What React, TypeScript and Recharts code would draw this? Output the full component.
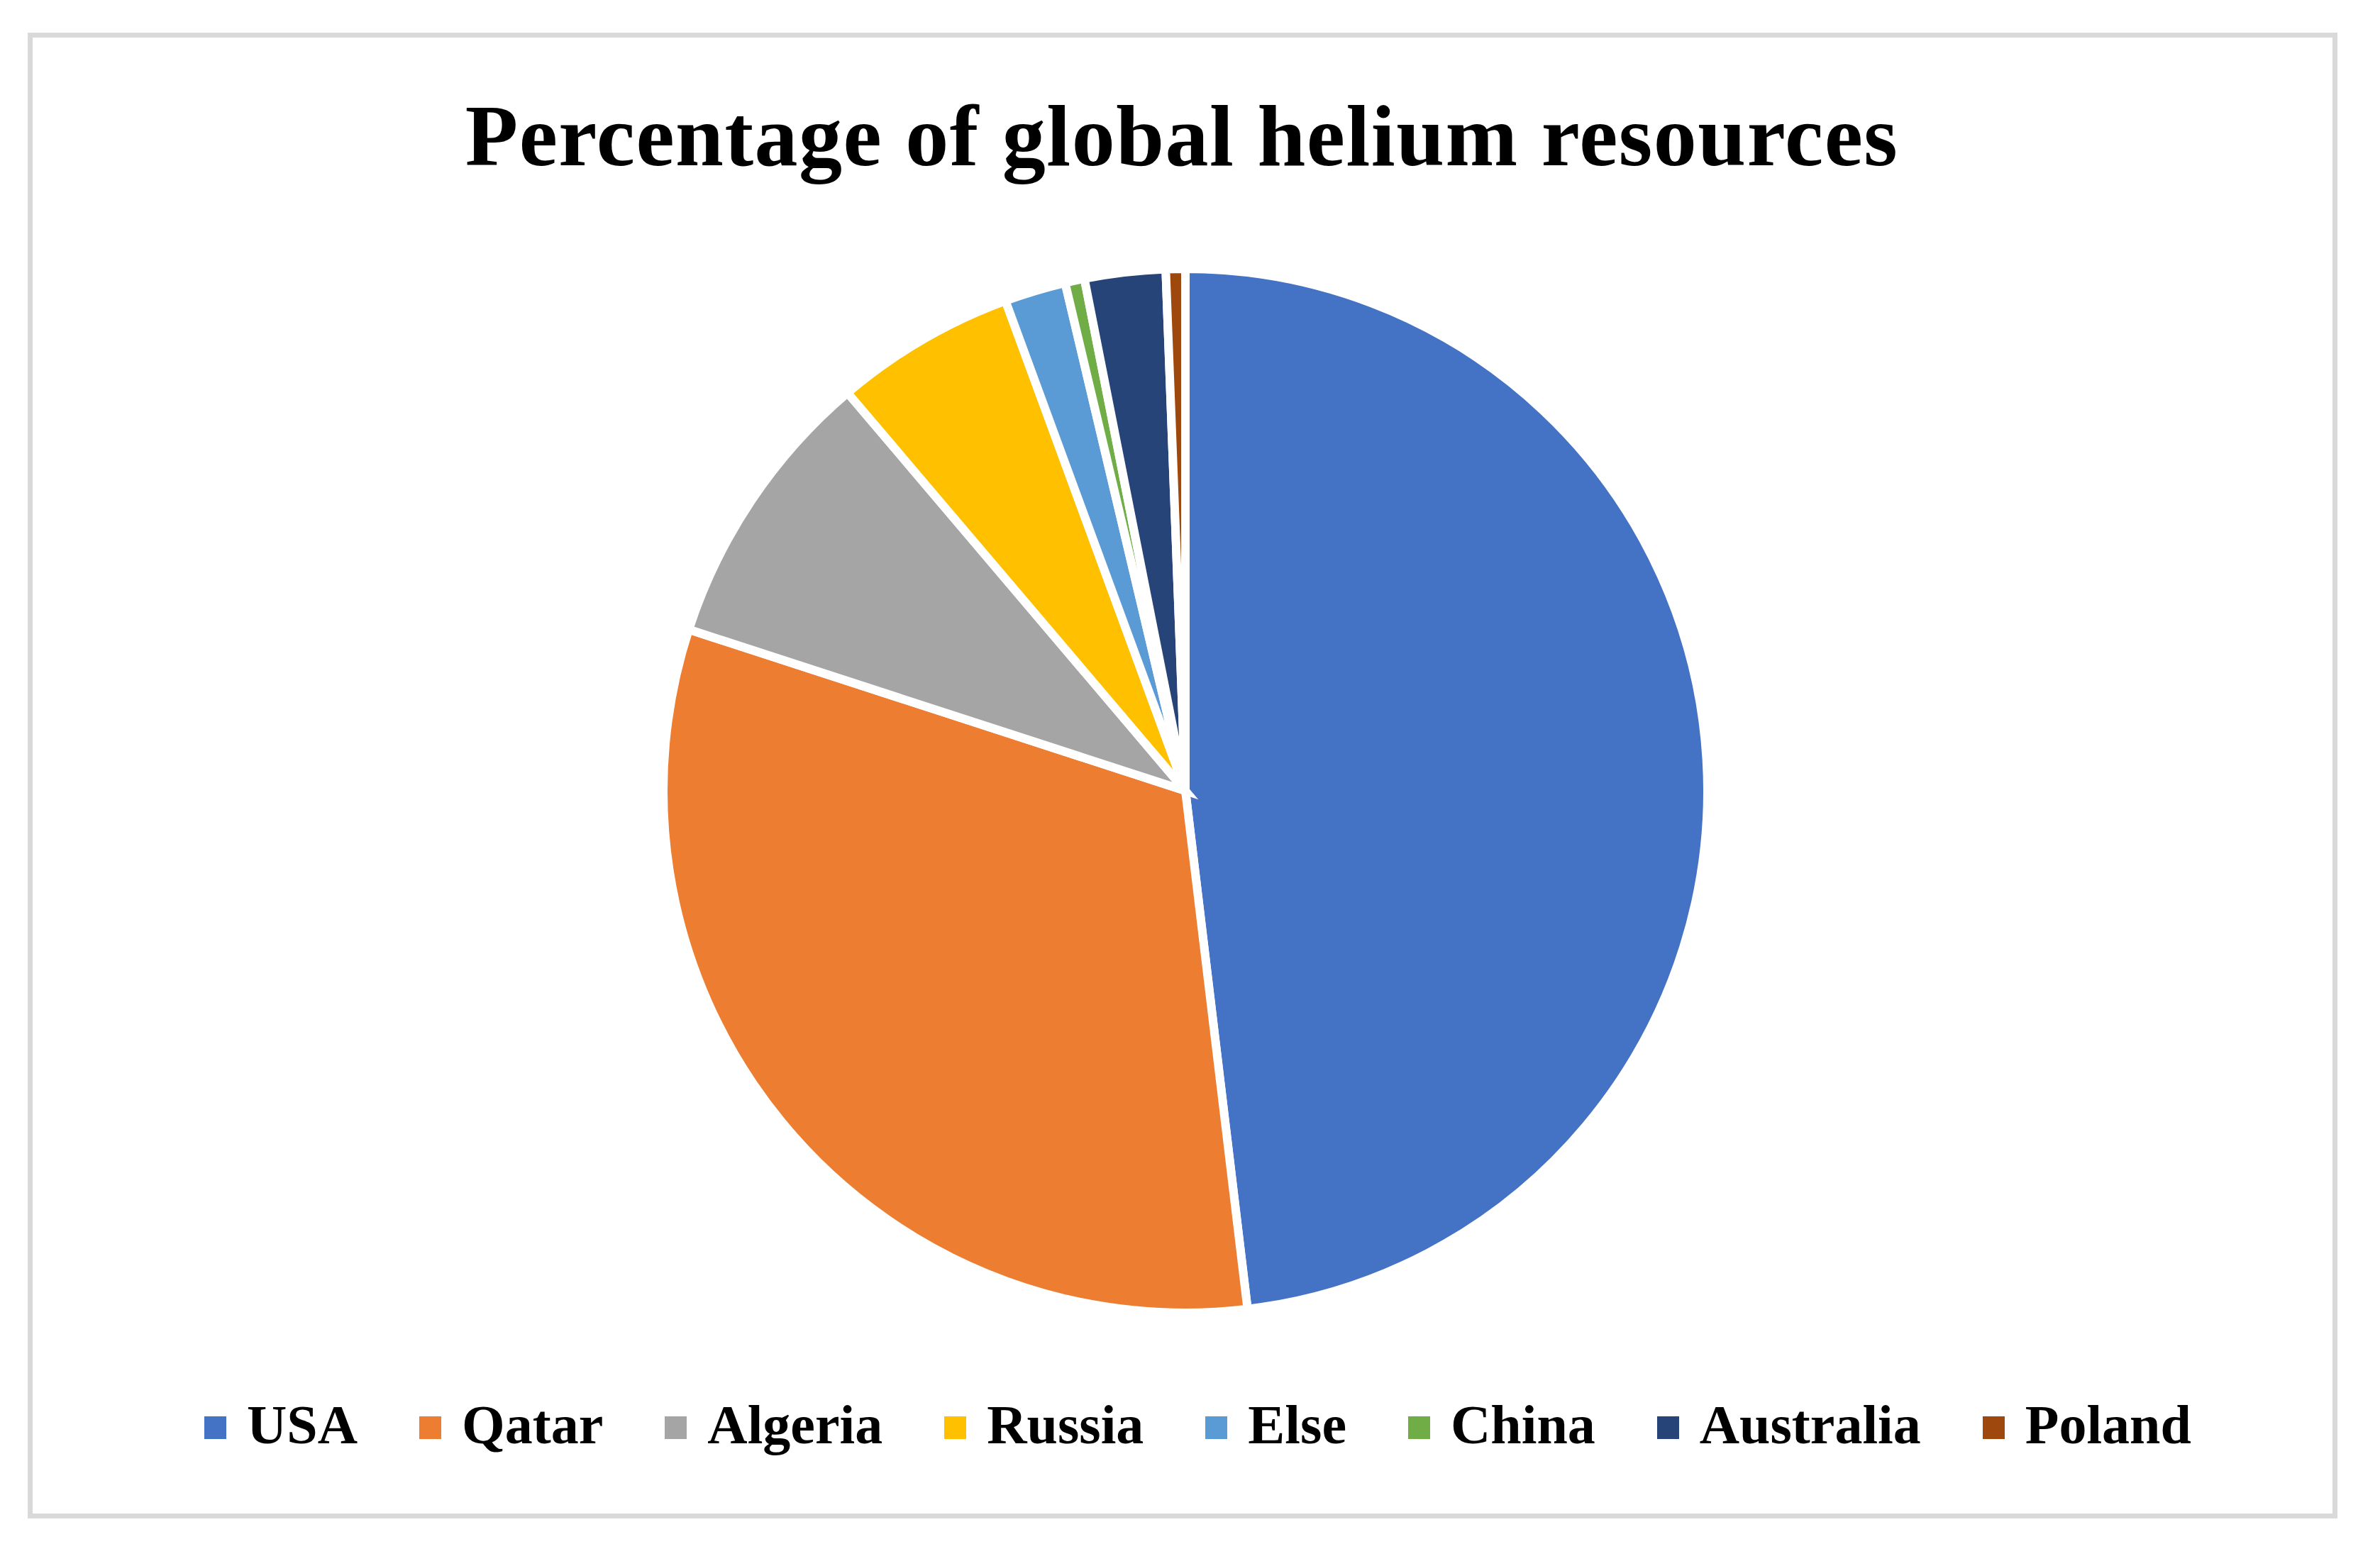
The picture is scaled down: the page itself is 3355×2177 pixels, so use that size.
import { PieChart, Pie, Cell, Legend } from 'recharts';

const countries = ['USA', 'Qatar', 'Algeria', 'Russia', 'Else', 'China', 'Australia', 'Poland'];
const shares = [48.1, 31.9, 8.8, 5.6, 1.9, 0.6, 2.5, 0.6];
const colors = ['#4472C4', '#ED7D31', '#A5A5A5', '#FFC000', '#5B9BD5', '#70AD47', '#264478', '#9E480E'];

const title = 'Percentage of global helium resources';

const data = countries.map((name, i) => ({ name, value: shares[i] }));

const serif = '"Liberation Serif", "Times New Roman", serif';

function LegendRow({ payload }: any) {
  // keep the data order (recharts sorts legend items by name otherwise)
  const items = countries.map((c, i) => {
    const hit = (payload || []).find((p: any) => p.value === c);
    return { value: c, color: hit?.color || colors[i] };
  });
  return (
    <div style={{ display: 'flex', alignItems: 'center', fontFamily: serif, fontWeight: 'bold', fontSize: 78, lineHeight: '78px', color: '#000', whiteSpace: 'nowrap' }}>
      {items.map((entry, i) => (
        <div key={entry.value} style={{ display: 'flex', alignItems: 'center', marginRight: i < items.length - 1 ? 87 : 0 }}>
          <span style={{ display: 'inline-block', width: 31, height: 32, background: entry.color, marginRight: 29, marginTop: 7 }} />
          <span>{entry.value}</span>
        </div>
      ))}
    </div>
  );
}

export default function App() {
  document.body.style.margin = '0';
  return (
    <div style={{ position: 'relative', width: 3355, height: 2177, background: '#fff' }}>
      <div style={{ position: 'absolute', left: 39, top: 46, width: 3256, height: 2095, boxSizing: 'border-box', border: '7px solid #d9d9d9' }} />
      <svg width={3355} height={2177} style={{ position: 'absolute', left: 0, top: 0 }}>
        <text x={1666} y={233} textAnchor="middle" fontFamily={serif} fontWeight="bold" fontSize={122} letterSpacing={1.5} fill="#000">
          {title}
        </text>
      </svg>
      <div style={{ position: 'absolute', left: 0, top: 0 }}>
        <PieChart width={3355} height={2177}>
          <Pie
            data={data}
            dataKey="value"
            nameKey="name"
            cx={1666}
            cy={1110}
            outerRadius={736}
            startAngle={90}
            endAngle={-270}
            stroke="#fff"
            strokeWidth={12}
            isAnimationActive={false}
          >
            {data.map((d, i) => (
              <Cell key={d.name} fill={colors[i]} />
            ))}
          </Pie>
          <Legend content={LegendRow} wrapperStyle={{ left: 288, top: 1970, width: 'auto', bottom: 'auto' }} />
        </PieChart>
      </div>
    </div>
  );
}
